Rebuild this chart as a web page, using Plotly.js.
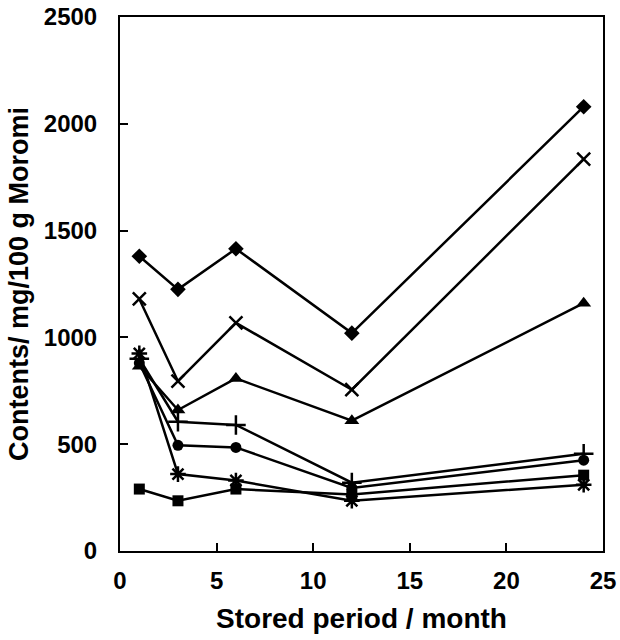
<!DOCTYPE html>
<html>
<head>
<meta charset="utf-8">
<script src="https://cdn.plot.ly/plotly-3.0.1.min.js"></script>
<style>body{margin:0;background:#fff}#chart{width:620px;height:640px}</style>
</head>
<body>
<div id="chart"></div>
<script>
const months = [1, 3, 6, 12, 24];
const seriesDiamond  = [1380, 1225, 1415, 1020, 2080];
const seriesCross    = [1180, 795, 1068, 755, 1835];
const seriesTriangle = [865, 660, 808, 610, 1160];
const seriesPlus     = [900, 605, 590, 320, 455];
const seriesCircle   = [880, 495, 485, 295, 425];
const seriesSquare   = [290, 235, 290, 265, 355];
const seriesAsterisk = [925, 360, 330, 235, 310];

const xTicks = [0, 5, 10, 15, 20, 25];
const yTicks = [0, 500, 1000, 1500, 2000, 2500];

function mk(y, symbol, size, open) {
  return {
    x: months, y: y, type: 'scatter', mode: 'lines+markers',
    line: {color: '#000', width: 2.5},
    marker: {symbol: symbol, size: size, color: '#000',
             line: {color: '#000', width: open ? 2.5 : 0}},
    showlegend: false, cliponaxis: false
  };
}

const data = [
  mk(seriesSquare, 'square', 11, false),
  mk(seriesCircle, 'circle', 11, false),
  mk(seriesPlus, 'cross-thin-open', 14, true),
  mk(seriesAsterisk, 'asterisk-open', 13, true),
  mk(seriesTriangle, 'triangle-up', 13, false),
  mk(seriesCross, 'x-thin-open', 13, true),
  mk(seriesDiamond, 'diamond', 12, false)
];

const font = {family: 'Liberation Sans, Arial, sans-serif', color: '#000'};

const layout = {
  width: 620, height: 640,
  margin: {l: 120, r: 17, t: 17, b: 89},
  paper_bgcolor: '#fff', plot_bgcolor: '#fff',
  font: font,
  xaxis: {
    range: [0, 25], tickvals: xTicks, ticktext: xTicks.map(String),
    ticks: 'inside', ticklen: 8, tickwidth: 2, tickcolor: '#000',
    showline: true, linewidth: 2, linecolor: '#000', mirror: true,
    showgrid: false, zeroline: false,
    ticklabelstandoff: 7,
    tickfont: {family: font.family, size: 24, color: '#000', weight: 'bold'},
    title: {text: 'Stored period / month', standoff: 16,
            font: {family: font.family, size: 28, color: '#000', weight: 'bold'}}
  },
  yaxis: {
    range: [0, 2500], tickvals: yTicks, ticktext: yTicks.map(String),
    ticks: 'inside', ticklen: 8, tickwidth: 2, tickcolor: '#000',
    showline: true, linewidth: 2, linecolor: '#000', mirror: true,
    showgrid: false, zeroline: false,
    ticklabelstandoff: 16,
    tickfont: {family: font.family, size: 24, color: '#000', weight: 'bold'},
    title: {text: 'Contents/ mg/100 g Moromi', standoff: 7,
            font: {family: font.family, size: 27, color: '#000', weight: 'bold'}}
  }
};

Plotly.newPlot('chart', data, layout, {staticPlot: true, displayModeBar: false});
</script>
</body>
</html>
